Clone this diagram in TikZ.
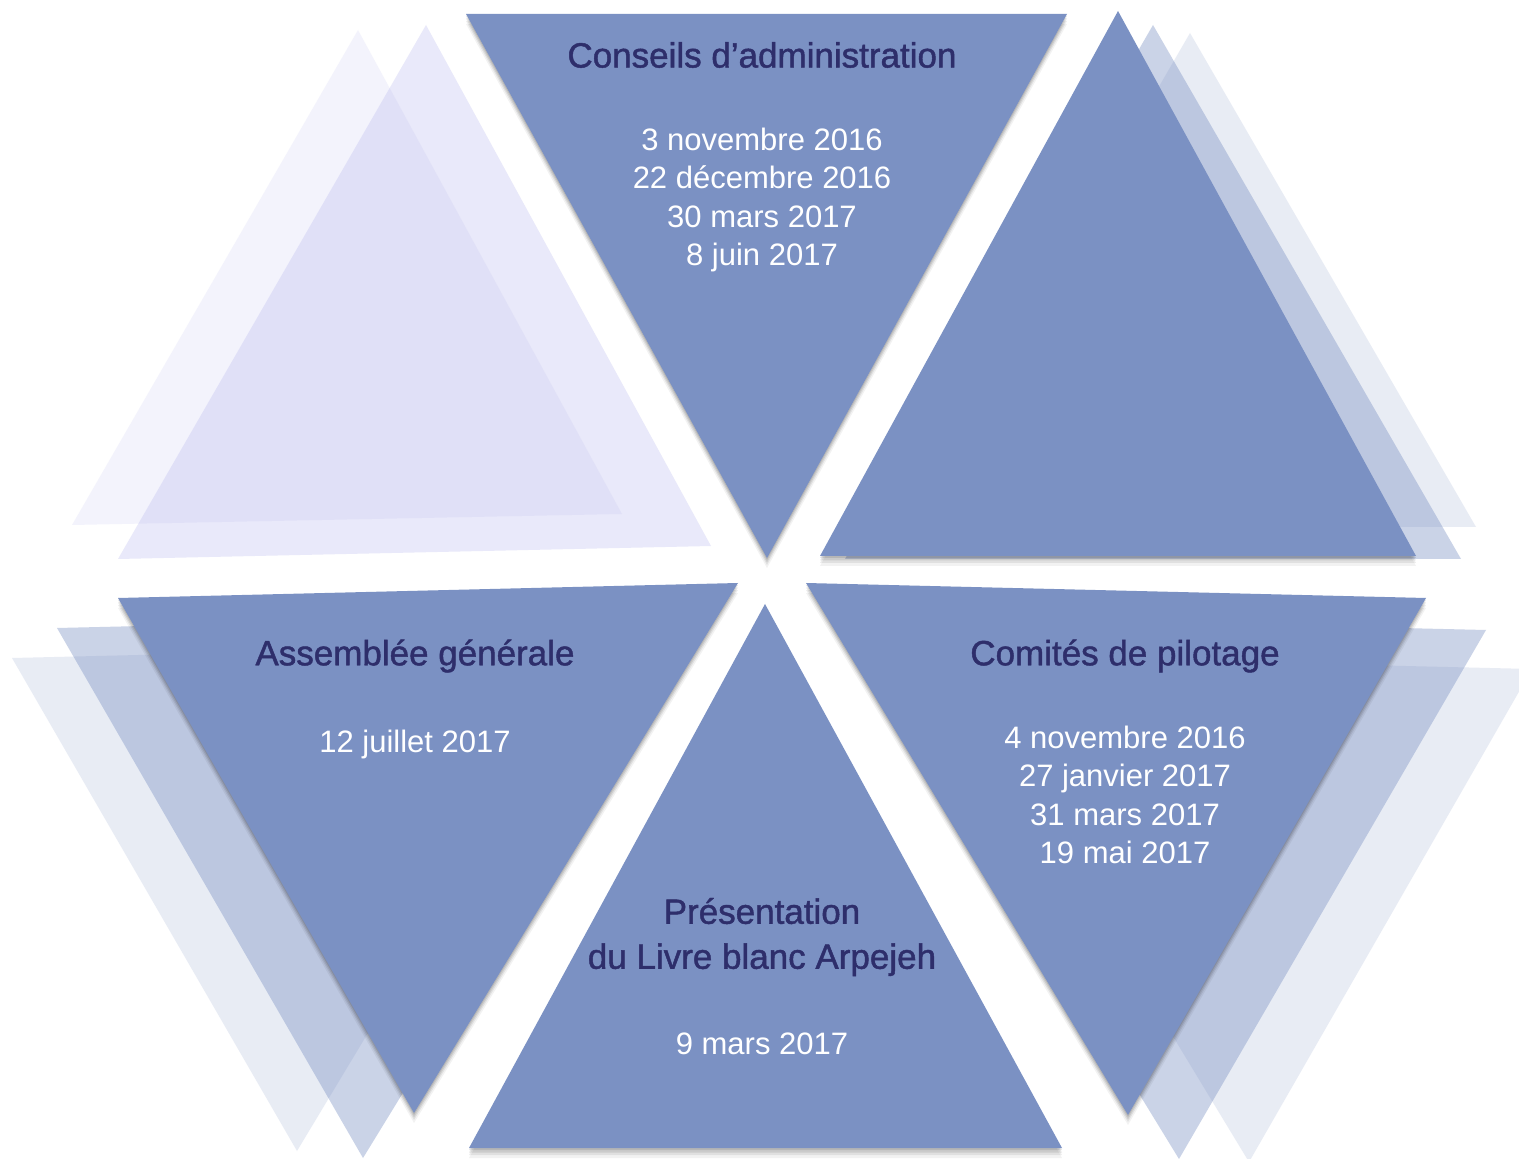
\documentclass[tikz,border=0pt]{standalone}
\usepackage{fontspec}
\setmainfont{Liberation Sans}
\newfontface\titlefont[FakeBold=1.3]{Liberation Sans}
\definecolor{mainblue}{HTML}{7B91C3}
\definecolor{titlenavy}{HTML}{2E2E6B}
\definecolor{lav}{HTML}{B4B4EE}
\newcommand\shadedtri[3]{%
  \foreach \s/\o in {10/0.05,7/0.07,4.5/0.09,2/0.1}{%
    \fill[black,opacity=\o,shift={(0,\s)}] #1 -- #2 -- #3 -- cycle;}%
  \fill[mainblue] #1 -- #2 -- #3 -- cycle;}
\begin{document}
\begin{tikzpicture}[x=0.5pt,y=-0.5pt,
  titletext/.style={text=titlenavy,font=\titlefont\fontsize{17.5}{22.5}\selectfont,align=center,inner sep=0pt},
  datetext/.style={text=white,font=\fontsize{15.5}{19.2}\selectfont,align=center,inner sep=0pt},
  ghostB/.style={fill=mainblue,fill opacity=0.17},
  ghostA/.style={fill=mainblue,fill opacity=0.40}]
\path[use as bounding box] (0,0) rectangle (1519,1159);
\clip (0,0) rectangle (1519,1159);
\fill[white] (0,0) rectangle (1519,1159);

% lavender ghosts (top left)
\fill[lav,fill opacity=0.15] (358,30) -- (72,525) -- (622,514) -- cycle;
\fill[lav,fill opacity=0.29] (426,25) -- (118,559) -- (711,546) -- cycle;

% top centre
\shadedtri{(466,14)}{(1067,14)}{(767,558)}

% right upright with ghosts
\fill[ghostB] (1190,33) -- (904,527) -- (1476,527) -- cycle;
\fill[ghostA] (1153,25) -- (845,559) -- (1461,559) -- cycle;
\shadedtri{(1118,11)}{(820,556)}{(1416,556)}

% bottom left with ghosts
\fill[ghostB] (12,658) -- (602,644) -- (297,1151) -- cycle;
\fill[ghostA] (57,628) -- (697,613) -- (363,1158) -- cycle;
\shadedtri{(118,598)}{(738,583)}{(414,1113)}

% bottom centre
\shadedtri{(765,604)}{(469,1148)}{(1062,1148)}

% bottom right with ghosts
\fill[ghostB] (942,655) -- (1532,669) -- (1249,1162) -- cycle;
\fill[ghostA] (846,615) -- (1486,630) -- (1179,1159) -- cycle;
\shadedtri{(806,583)}{(1426,598)}{(1128,1115)}

% texts
\node[titletext] (t1) at (762,55) {Conseils d’administration};
\node[datetext] (d1) at (762,200) {3 novembre 2016\\22 décembre 2016\\30 mars 2017\\8 juin 2017};

\node[titletext] (t3) at (415,656) {Assemblée générale};
\node[datetext] (d3) at (415,744) {12 juillet 2017};

\node[titletext] (t4) at (762,937) {Présentation\\du Livre blanc Arpejeh};
\node[datetext] (d4) at (762,1044) {9 mars 2017};

\node[titletext] (t5) at (1125,656) {Comités de pilotage};
\node[datetext] (d5) at (1125,795) {4 novembre 2016\\27 janvier 2017\\31 mars 2017\\19 mai 2017};
\end{tikzpicture}
\end{document}
